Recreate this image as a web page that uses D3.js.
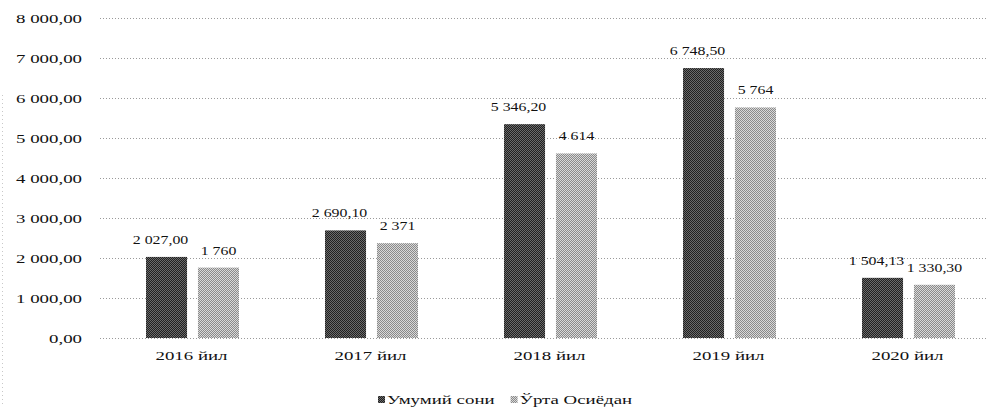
<!DOCTYPE html>
<html>
<head>
<meta charset="utf-8">
<script src="https://cdn.jsdelivr.net/npm/d3@7"></script>
<style>
  html, body { margin: 0; padding: 0; background: #fff; }
  svg { display: block; }
</style>
</head>
<body>
<svg id="chart" width="995" height="413"></svg>
<script>
// Years shown on the category axis
const categories = ["2016 йил", "2017 йил", "2018 йил", "2019 йил", "2020 йил"];
// Series names
const seriesNames = ["Умумий сони", "Ўрта Осиёдан"];
// Series values
const totalValues = [2027.00, 2690.10, 5346.20, 6748.50, 1504.13];
const centralAsiaValues = [1760, 2371, 4614, 5764, 1330.30];
// Data labels as printed above bars
const totalLabels = ["2 027,00", "2 690,10", "5 346,20", "6 748,50", "1 504,13"];
const centralAsiaLabels = ["1 760", "2 371", "4 614", "5 764", "1 330,30"];
// Value axis ticks
const yTicks = [0, 1000, 2000, 3000, 4000, 5000, 6000, 7000, 8000];
const yTickLabels = ["0,00", "1 000,00", "2 000,00", "3 000,00", "4 000,00", "5 000,00", "6 000,00", "7 000,00", "8 000,00"];

const FONT = "'Liberation Serif', 'Times New Roman', 'DejaVu Serif', serif";
const AXIS_SX = 1.45;   // wide, horizontally stretched lettering
const LABEL_SX = 1.22;

const svg = d3.select("#chart");
const defs = svg.append("defs");

// Checkerboard dither fills for the two series
function dither(id, c1, c2) {
  const p = defs.append("pattern").attr("id", id)
    .attr("width", 2).attr("height", 2).attr("patternUnits", "userSpaceOnUse");
  p.append("rect").attr("width", 2).attr("height", 2).attr("fill", c1);
  p.append("rect").attr("x", 0).attr("y", 0).attr("width", 1).attr("height", 1).attr("fill", c2);
  p.append("rect").attr("x", 1).attr("y", 1).attr("width", 1).attr("height", 1).attr("fill", c2);
}
dither("patDark", "#202020", "#6a6a6a");
dither("patLight", "#8a8a8a", "#d8d8d8");
const fills = ["url(#patDark)", "url(#patLight)"];

const x = d3.scaleBand().domain(categories).range([102, 997]);
const x1 = d3.scaleBand().domain(seriesNames).range([44, 137]).paddingInner(0.21).paddingOuter(0);
const y = d3.scaleLinear().domain([0, 8000]).range([338, 18]);

// Stretched text helper
function stext(parent, tx, ty, sx, size, anchor, str) {
  return parent.append("text")
    .attr("transform", `translate(${tx},${ty}) scale(${sx},1)`)
    .attr("text-anchor", anchor).attr("font-size", size)
    .attr("font-family", FONT).attr("fill", "#111")
    .text(str);
}

// Gridlines
svg.append("g").selectAll("line").data(yTicks).join("line")
  .attr("x1", 100).attr("x2", 988)
  .attr("y1", d => Math.round(y(d)) + 0.5).attr("y2", d => Math.round(y(d)) + 0.5)
  .attr("stroke", "#9a9a9a").attr("stroke-width", 1).attr("stroke-dasharray", "1,2");

// Faint dotted border on the left
svg.append("line").attr("x1", 2.5).attr("x2", 2.5).attr("y1", 95).attr("y2", 405)
  .attr("stroke", "#c8c8c8").attr("stroke-dasharray", "1,3");

// Value axis labels
const yAxisG = svg.append("g");
yTicks.forEach((t, i) => stext(yAxisG, 82, y(t) + 4.5, AXIS_SX, 13, "end", yTickLabels[i]));

// Bars
const rows = categories.map((c, i) => ({
  cat: c,
  vals: [
    { s: seriesNames[0], v: totalValues[i], label: totalLabels[i] },
    { s: seriesNames[1], v: centralAsiaValues[i], label: centralAsiaLabels[i] }
  ]
}));

const groups = svg.append("g").selectAll("g").data(rows).join("g")
  .attr("transform", d => `translate(${x(d.cat)},0)`);

groups.selectAll("rect").data(d => d.vals).join("rect")
  .attr("x", d => x1(d.s))
  .attr("y", d => y(d.v))
  .attr("width", x1.bandwidth())
  .attr("height", d => y(0) - y(d.v))
  .attr("fill", (d, i) => fills[i]);

// Data labels
groups.each(function (d) {
  const g = d3.select(this);
  d.vals.forEach((v, i) => {
    stext(g, x1(v.s) + x1.bandwidth() / 2 + (i === 0 ? -6 : 0), y(v.v) - 13,
      LABEL_SX, 13, "middle", v.label);
  });
});

// Category axis labels
const xAxisG = svg.append("g");
categories.forEach(c => stext(xAxisG, x(c) + x.bandwidth() / 2, 360, AXIS_SX, 13, "middle", c));

// Legend
const legend = svg.append("g");
let lx = 378;
seriesNames.forEach((name, i) => {
  legend.append("rect").attr("x", lx).attr("y", 396).attr("width", 7).attr("height", 7).attr("fill", fills[i]);
  const t = stext(legend, lx + 9, 404, AXIS_SX, 13, "start", name);
  lx += 9 + t.node().getComputedTextLength() * AXIS_SX + 16;
});
</script>
</body>
</html>
